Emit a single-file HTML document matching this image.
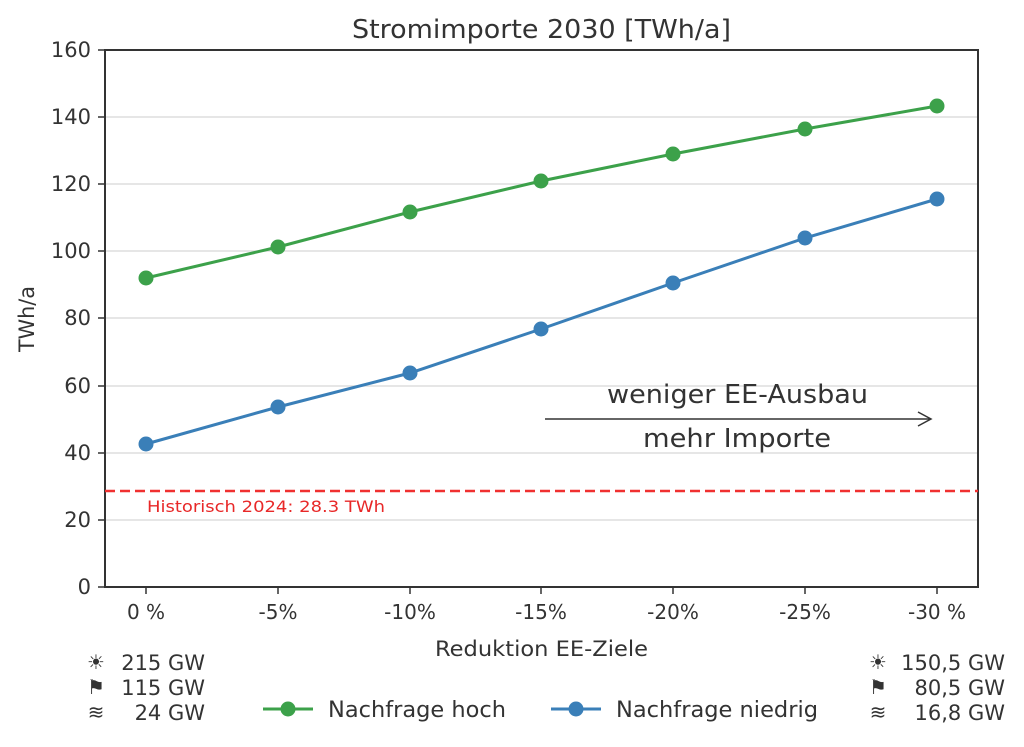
<!DOCTYPE html>
<html><head><meta charset="utf-8"><style>body{margin:0;background:#fff}svg{display:block}</style></head><body>
<svg width="1024" height="747" xmlns="http://www.w3.org/2000/svg" font-family="DejaVu Sans, Liberation Sans, sans-serif" fill="#333">
<g stroke="#dddddd" stroke-width="1.5">
<line x1="105" x2="978" y1="520" y2="520"/><line x1="105" x2="978" y1="453" y2="453"/><line x1="105" x2="978" y1="386" y2="386"/><line x1="105" x2="978" y1="318" y2="318"/><line x1="105" x2="978" y1="251" y2="251"/><line x1="105" x2="978" y1="184" y2="184"/><line x1="105" x2="978" y1="117" y2="117"/>
</g>
<rect x="105" y="50" width="873" height="537" fill="none" stroke="#333" stroke-width="2"/>
<g stroke="#333" stroke-width="1.5">
<line x1="98" x2="105" y1="587" y2="587"/><line x1="98" x2="105" y1="520" y2="520"/><line x1="98" x2="105" y1="453" y2="453"/><line x1="98" x2="105" y1="386" y2="386"/><line x1="98" x2="105" y1="318" y2="318"/><line x1="98" x2="105" y1="251" y2="251"/><line x1="98" x2="105" y1="184" y2="184"/><line x1="98" x2="105" y1="117" y2="117"/><line x1="98" x2="105" y1="50" y2="50"/>
<line x1="146" x2="146" y1="587" y2="594"/><line x1="278" x2="278" y1="587" y2="594"/><line x1="410" x2="410" y1="587" y2="594"/><line x1="541" x2="541" y1="587" y2="594"/><line x1="673" x2="673" y1="587" y2="594"/><line x1="805" x2="805" y1="587" y2="594"/><line x1="937" x2="937" y1="587" y2="594"/>
</g>
<g font-size="21" text-anchor="end">
<text x="91" y="594">0</text><text x="91" y="527">20</text><text x="91" y="460">40</text><text x="91" y="393">60</text><text x="91" y="325">80</text><text x="91" y="258">100</text><text x="91" y="191">120</text><text x="91" y="124">140</text><text x="91" y="57">160</text>
</g>
<g font-size="20" text-anchor="middle">
<text x="146" y="619">0 %</text><text x="278" y="619">-5%</text><text x="410" y="619">-10%</text><text x="541" y="619">-15%</text><text x="673" y="619">-20%</text><text x="805" y="619">-25%</text><text x="937" y="619">-30 %</text>
</g>
<text x="435" y="656" font-size="21" textLength="213" lengthAdjust="spacingAndGlyphs">Reduktion EE-Ziele</text>
<text x="352" y="38" font-size="26" textLength="379" lengthAdjust="spacingAndGlyphs">Stromimporte 2030 [TWh/a]</text>
<text transform="translate(34,352) rotate(-90)" font-size="21" textLength="66" lengthAdjust="spacingAndGlyphs">TWh/a</text>
<line x1="105" x2="978" y1="491" y2="491" stroke="#f03030" stroke-width="2.5" stroke-dasharray="10,5"/>
<text x="147" y="512" font-size="16" fill="#e82828" textLength="238" lengthAdjust="spacingAndGlyphs">Historisch 2024: 28.3 TWh</text>
<line x1="545" x2="930" y1="419" y2="419" stroke="#333" stroke-width="1.5"/>
<path d="M918 412 L931 419 L918 426" fill="none" stroke="#333" stroke-width="1.5"/>
<text x="607" y="403" font-size="26" textLength="261" lengthAdjust="spacingAndGlyphs">weniger EE-Ausbau</text>
<text x="643" y="447" font-size="26" textLength="188" lengthAdjust="spacingAndGlyphs">mehr Importe</text>
<polyline points="146,278 278,247 410,212 541,181 673,154 805,129 937,106" fill="none" stroke="#3ca14a" stroke-width="3"/>
<g fill="#3ca14a"><circle cx="146" cy="278" r="7.5"/><circle cx="278" cy="247" r="7.5"/><circle cx="410" cy="212" r="7.5"/><circle cx="541" cy="181" r="7.5"/><circle cx="673" cy="154" r="7.5"/><circle cx="805" cy="129" r="7.5"/><circle cx="937" cy="106" r="7.5"/></g>
<polyline points="146,444 278,407 410,373 541,329 673,283 805,238 937,199" fill="none" stroke="#3a7fb8" stroke-width="3"/>
<g fill="#3a7fb8"><circle cx="146" cy="444" r="7.5"/><circle cx="278" cy="407" r="7.5"/><circle cx="410" cy="373" r="7.5"/><circle cx="541" cy="329" r="7.5"/><circle cx="673" cy="283" r="7.5"/><circle cx="805" cy="238" r="7.5"/><circle cx="937" cy="199" r="7.5"/></g>
<line x1="263" x2="313" y1="709" y2="709" stroke="#3ca14a" stroke-width="3"/><circle cx="288" cy="709" r="7.5" fill="#3ca14a"/>
<text x="328" y="717" font-size="22" textLength="178" lengthAdjust="spacingAndGlyphs">Nachfrage hoch</text>
<line x1="551" x2="601" y1="709" y2="709" stroke="#3a7fb8" stroke-width="3"/><circle cx="576" cy="709" r="7.5" fill="#3a7fb8"/>
<text x="616" y="717" font-size="22" textLength="202" lengthAdjust="spacingAndGlyphs">Nachfrage niedrig</text>
<g font-size="21" text-anchor="end">
<text x="205" y="670">215 GW</text><text x="205" y="695">115 GW</text><text x="205" y="720">24 GW</text>
<text x="1005" y="670">150,5 GW</text><text x="1005" y="695">80,5 GW</text><text x="1005" y="720">16,8 GW</text>
</g>
<g font-size="20" text-anchor="middle">
<text x="96" y="669">☀</text><text x="96" y="694">⚑</text><text x="96" y="719">≋</text>
<text x="878" y="669">☀</text><text x="878" y="694">⚑</text><text x="878" y="719">≋</text>
</g>
</svg>
</body></html>
